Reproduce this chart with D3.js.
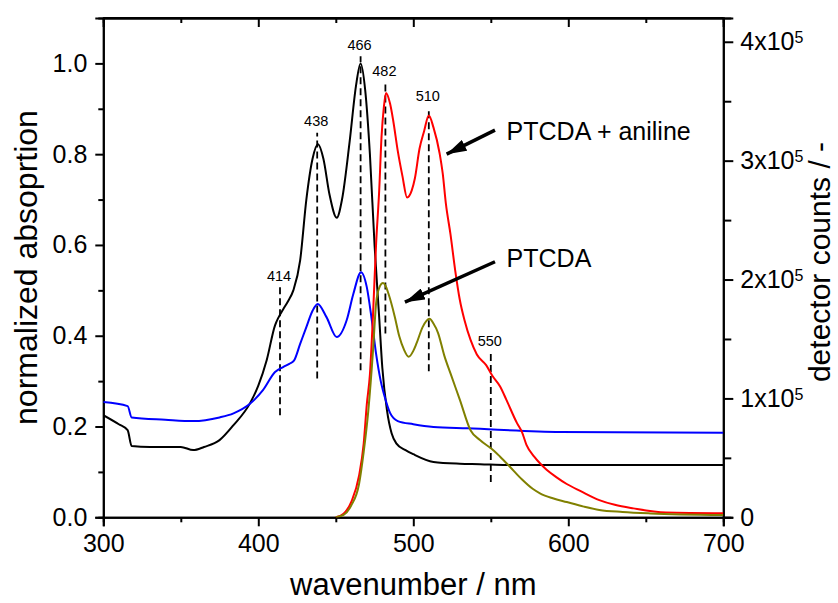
<!DOCTYPE html>
<html>
<head>
<meta charset="utf-8">
<script src="https://cdn.jsdelivr.net/npm/d3@7"></script>
<style>
  body { margin: 0; background: #fff; }
  svg { display: block; font-family: "Liberation Sans", Arial, sans-serif; }
</style>
</head>
<body>
<div id="chart"></div>
<script>
// absorption spectra (left axis), [nm, normalized absorption]
const pristineAbs = [
  [300, 0.225], [310, 0.205], [315.7, 0.192], [318.3, 0.157], [330, 0.155], [350, 0.155],
  [358, 0.148], [365, 0.155], [375, 0.17], [384, 0.203], [394.6, 0.251], [400, 0.29],
  [405.4, 0.346], [410.8, 0.423], [413, 0.44], [416, 0.458], [419, 0.475], [422.6, 0.5],
  [427, 0.566], [431, 0.7], [435, 0.79], [438.5, 0.822], [442, 0.79], [446, 0.71],
  [450.6, 0.66], [454, 0.7], [459, 0.83], [463, 0.95], [466, 1.0], [469, 0.94],
  [472, 0.8], [475, 0.6], [478, 0.44], [480, 0.33], [483, 0.236], [486, 0.185],
  [489, 0.163], [495, 0.148], [500, 0.139], [513, 0.122], [530, 0.118], [543, 0.117],
  [560, 0.115], [700, 0.115]
];
const anilineAbs = [
  [300, 0.254], [315.7, 0.245], [318.3, 0.22], [340, 0.215], [358, 0.212], [375, 0.22],
  [384, 0.229], [394.6, 0.25], [403, 0.28], [410.8, 0.32], [416, 0.331], [420, 0.338],
  [423, 0.345], [427, 0.382], [431, 0.419], [435, 0.455], [438.3, 0.47], [444, 0.441],
  [450.6, 0.397], [457, 0.434], [461.3, 0.492], [466.3, 0.54], [470, 0.507], [473, 0.44],
  [476, 0.36], [479, 0.3], [482, 0.26], [485, 0.23], [490, 0.212], [500, 0.205],
  [513, 0.199], [535, 0.196], [595, 0.188], [700, 0.186]
];
// emission (right axis), [nm, detector counts]
const anilineEm = [
  [450, 0], [455, 3000], [460, 13000], [465, 35000], [468, 62000], [470, 95000],
  [472, 120000], [474, 170000], [476, 230000], [478, 275000], [479.5, 320000],
  [481, 345000], [482.4, 357000], [485, 348000], [487, 334000], [490, 308000],
  [493, 287000], [496, 269000], [499, 275000], [501, 285000], [504, 310000],
  [507, 325000], [510, 338000], [513, 328000], [517, 306000], [519, 289000],
  [521, 264000], [524, 238000], [527, 208000], [530, 183000], [533, 166000],
  [537, 149000], [541, 137000], [547, 128000], [551, 119000], [556, 110000],
  [560, 99000], [567, 79000], [570, 72000], [573, 61000], [578, 51000], [582, 45000],
  [586, 40000], [592, 34000], [599, 28000], [608, 22000], [620, 14500], [630, 10500],
  [642, 7500], [663, 4000], [700, 3400]
];
const pristineEm = [
  [450, 0], [455, 2000], [460, 10000], [465, 28000], [468, 55000], [471, 90000],
  [474, 140000], [476, 180000], [478, 193000], [480.5, 197000], [482, 195000],
  [484, 188000], [488, 169000], [491, 152000], [494, 141000], [497, 135000],
  [500, 140000], [502, 146000], [506, 160000], [510.5, 167000], [513, 163000],
  [516, 155000], [520, 136000], [524, 121000], [530, 99000], [537, 73000],
  [543, 65000], [552, 56000], [556, 51000], [562, 43000], [570, 32000],
  [577, 24000], [582, 20000], [590, 16000], [599, 12800], [610, 9000], [620, 6200],
  [635, 4500], [653, 3300], [700, 2000]
];

// peak markers: [nm, bottom, top] in left-axis units
const peaks = [
  [414, 0.225, 0.507], [438, 0.306, 0.847], [466, 0.324, 1.016],
  [482, 0.405, 0.957], [510, 0.322, 0.902], [550, 0.078, 0.364]
];

const xTicks = [300, 400, 500, 600, 700];
const leftTicks = [0, 0.2, 0.4, 0.6, 0.8, 1.0];
const rightTicks = [0, 1e5, 2e5, 3e5, 4e5];

// labels with arrows: [text, text nm, text y, arrow from nm, y, arrow to nm, y]
const callouts = [
  ["PTCDA + aniline", 560.2, 0.831, 552.7, 0.853, 521.5, 0.8],
  ["PTCDA", 560.2, 0.551, 552.7, 0.563, 494.6, 0.474]
];

const W = 838, H = 603;
const pLeft = 103.3, pRight = 723.3, pTop = 18, pBottom = 517.3;

const svg = d3.select("#chart").append("svg")
  .attr("width", W).attr("height", H);

const x = d3.scaleLinear().domain([300, 700]).range([pLeft, pRight]);
const yL = d3.scaleLinear().domain([0, 1.1]).range([pBottom, pTop]);
const yR = d3.scaleLinear().domain([0, 4.2e5]).range([pBottom, pTop]);

const minorX = d3.range(350, 700, 100);
const minorL = d3.range(0.1, 1.1, 0.2);
const minorR = d3.range(0.5e5, 4.2e5, 1e5);

function styleAxis(g) {
  g.selectAll("path").attr("stroke", "#000").attr("stroke-width", 2);
  g.selectAll("line").attr("stroke", "#000").attr("stroke-width", 2);
  g.selectAll("text").attr("fill", "#000").style("font-size", "25px")
    .style("font-family", '"Liberation Sans", Arial, sans-serif');
}

// bottom axis
svg.append("g").attr("transform", `translate(0,${pBottom})`)
  .call(d3.axisBottom(x).tickValues(xTicks).tickSize(9).tickPadding(8).tickFormat(d3.format("d")))
  .call(styleAxis);
svg.append("g").attr("transform", `translate(0,${pBottom})`)
  .call(d3.axisBottom(x).tickValues(minorX).tickSize(5).tickFormat(""))
  .call(styleAxis);

// top axis (ticks inward)
svg.append("g").attr("transform", `translate(0,${pTop})`)
  .call(d3.axisTop(x).tickValues(xTicks).tickSize(-9).tickFormat(""))
  .call(styleAxis);
svg.append("g").attr("transform", `translate(0,${pTop})`)
  .call(d3.axisTop(x).tickValues(minorX).tickSize(-5).tickFormat(""))
  .call(styleAxis);

// left axis
svg.append("g").attr("transform", `translate(${pLeft},0)`)
  .call(d3.axisLeft(yL).tickValues(leftTicks).tickSize(8).tickPadding(8).tickFormat(d3.format(".1f")))
  .call(styleAxis);
svg.append("g").attr("transform", `translate(${pLeft},0)`)
  .call(d3.axisLeft(yL).tickValues(minorL).tickSize(5).tickFormat(""))
  .call(styleAxis);

// right axis
const rAxis = svg.append("g").attr("transform", `translate(${pRight},0)`)
  .call(d3.axisRight(yR).tickValues(rightTicks).tickSize(10).tickPadding(7).tickFormat(""))
  .call(styleAxis);
svg.append("g").attr("transform", `translate(${pRight},0)`)
  .call(d3.axisRight(yR).tickValues(minorR).tickSize(8).tickFormat(""))
  .call(styleAxis);

rAxis.selectAll(".tick").each(function(d) {
  const t = d3.select(this).append("text")
    .attr("x", 17).attr("dy", "0.32em")
    .attr("fill", "#000").style("font-size", "25px").attr("text-anchor", "start");
  if (d === 0) { t.text("0"); return; }
  t.append("tspan").text(`${d / 1e5}x10`);
  t.append("tspan").text("5").attr("dy", "-0.45em").style("font-size", "16px");
});

// top frame line
svg.append("line")
  .attr("x1", pLeft).attr("x2", pRight).attr("y1", pTop).attr("y2", pTop)
  .attr("stroke", "#000").attr("stroke-width", 2);

// curves
svg.append("clipPath").attr("id", "plot")
  .append("rect").attr("x", pLeft).attr("y", pTop)
  .attr("width", pRight - pLeft).attr("height", pBottom - pTop);

const lineL = d3.line().x(d => x(d[0])).y(d => yL(d[1])).curve(d3.curveMonotoneX);
const lineR = d3.line().x(d => x(d[0])).y(d => yR(d[1])).curve(d3.curveMonotoneX);

const plot = svg.append("g").attr("clip-path", "url(#plot)");

// peak dashes
plot.selectAll(".peak").data(peaks).join("line")
  .attr("x1", d => x(d[0])).attr("x2", d => x(d[0]))
  .attr("y1", d => yL(d[1])).attr("y2", d => yL(d[2]))
  .attr("stroke", "#000").attr("stroke-width", 1.8)
  .attr("stroke-dasharray", "7,4");

const series = [
  [pristineAbs, lineL, "#000000"],
  [anilineAbs, lineL, "#0000ff"],
  [anilineEm, lineR, "#ff0000"],
  [pristineEm, lineR, "#808000"]
];
series.forEach(([data, gen, color]) => {
  plot.append("path").datum(data)
    .attr("d", gen)
    .attr("fill", "none")
    .attr("stroke", color)
    .attr("stroke-width", 2);
});

// peak labels
svg.selectAll(".peaklabel").data(peaks).join("text")
  .attr("x", d => x(d[0]) - 1)
  .attr("y", d => yL(d[2]) - 6.5)
  .attr("text-anchor", "middle")
  .style("font-size", "14.5px")
  .text(d => d[0]);

// arrows and labels
svg.append("defs").append("marker")
  .attr("id", "head")
  .attr("markerUnits", "userSpaceOnUse")
  .attr("viewBox", "0 0 20 12")
  .attr("markerWidth", 20).attr("markerHeight", 12)
  .attr("refX", 20).attr("refY", 6)
  .attr("orient", "auto")
  .append("path").attr("d", "M0,0 L20,6 L0,12 Z").attr("fill", "#000");

callouts.forEach(c => {
  const x1 = x(c[3]), y1 = yL(c[4]), x2 = x(c[5]), y2 = yL(c[6]);
  svg.append("line")
    .attr("x1", x1).attr("y1", y1).attr("x2", x2).attr("y2", y2)
    .attr("stroke", "#000").attr("stroke-width", 3.5)
    .attr("marker-end", "url(#head)");
  svg.append("text")
    .attr("x", x(c[1])).attr("y", yL(c[2]))
    .style("font-size", "25px")
    .text(c[0]);
});

// axis titles
svg.append("text")
  .attr("x", (pLeft + pRight) / 2).attr("y", 595)
  .attr("text-anchor", "middle").style("font-size", "31px")
  .text("wavenumber / nm");
svg.append("text")
  .attr("transform", `translate(37,${(107 + 428) / 2}) rotate(-90)`)
  .attr("text-anchor", "middle").style("font-size", "32px")
  .text("normalized absoprtion");
svg.append("text")
  .attr("transform", `translate(830,262) rotate(-90)`)
  .attr("text-anchor", "middle").style("font-size", "30px")
  .text("detector counts / -");
</script>
</body>
</html>
